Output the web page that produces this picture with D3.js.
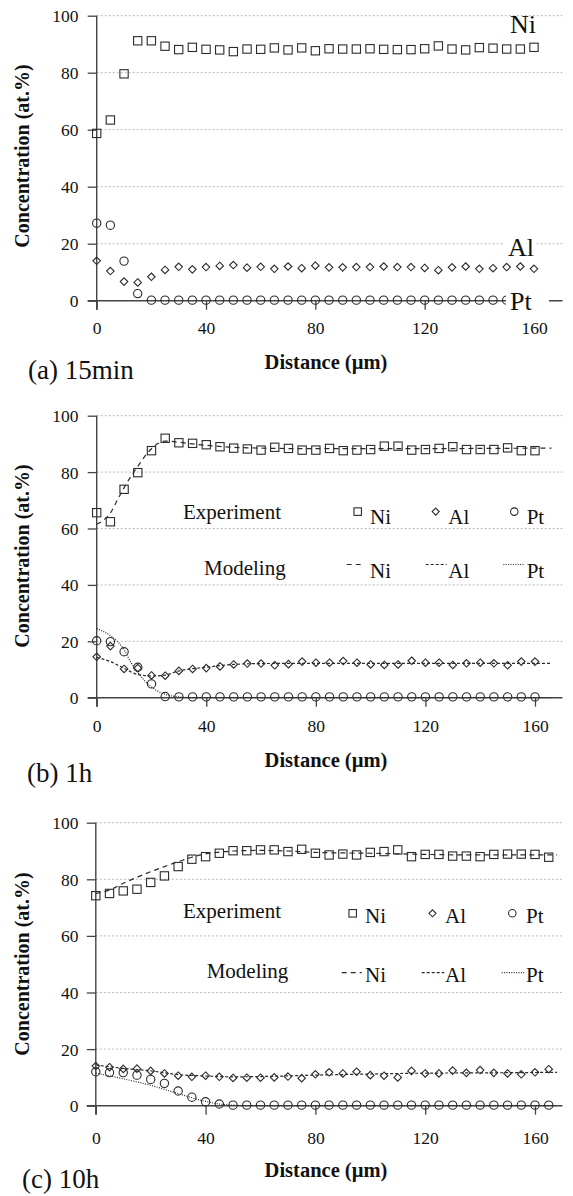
<!DOCTYPE html>
<html><head><meta charset="utf-8">
<script src="https://cdn.jsdelivr.net/npm/d3@7"></script>
<style>body{margin:0;background:#fff} svg{display:block} text{font-family:'Liberation Serif','Times New Roman',serif}</style>
</head><body>
<script>
// ---------------- data ----------------
const xTickValues = [0, 40, 80, 120, 160];
const yTickValues = [0, 20, 40, 60, 80, 100];
const elementNames = ["Ni", "Al", "Pt"];
const panelLabels = ["(a) 15min", "(b) 1h", "(c) 10h"];
const xTitle = "Distance (\u00b5m)";
const yTitle = "Concentration (at.%)";
const legendRows = ["Experiment", "Modeling"];

// (a) 15 min — experiment
const distA = [0,5,10,15,20,25,30,35,40,45,50,55,60,65,70,75,80,85,90,95,100,105,110,115,120,125,130,135,140,145,150,155,160];
const niA = [58.7,63.4,79.6,91.2,91.2,89.3,88.1,88.9,88.2,88.0,87.4,88.3,88.2,88.7,88.0,88.7,87.7,88.4,88.3,88.3,88.4,88.2,88.1,88.1,88.4,89.4,88.3,88.0,88.8,88.6,88.3,88.3,88.9];
const alA = [14.0,10.4,6.7,6.4,8.4,10.8,11.9,11.0,11.8,12.2,12.5,11.6,11.9,11.2,12.0,11.4,12.3,11.7,11.7,11.8,11.8,12.0,11.8,11.8,11.5,10.7,11.7,12.0,11.2,11.4,11.8,12.0,11.2];
const ptA = [27.2,26.5,13.9,2.5,0.2,0.2,0.2,0.2,0.2,0.2,0.2,0.2,0.2,0.2,0.2,0.2,0.2,0.2,0.2,0.2,0.2,0.2,0.2,0.2,0.2,0.2,0.2,0.2,0.2,0.2,0.2,0.2,0.2];

// (b) 1 h — experiment
const distB = [0,5,10,15,20,25,30,35,40,45,50,55,60,65,70,75,80,85,90,95,100,105,110,115,120,125,130,135,140,145,150,155,160];
const niB = [65.6,62.4,73.9,79.8,87.6,92.0,90.4,90.2,89.7,89.0,88.5,88.2,87.8,88.8,88.4,87.8,87.8,88.4,87.6,87.8,88.0,89.2,89.2,87.8,88.0,88.4,89.0,88.0,88.0,88.0,88.6,87.6,87.6];
const alB = [14.5,18.3,10.2,10.5,7.9,7.8,9.5,10.2,10.5,11.1,11.8,12.1,12.1,11.5,11.9,12.8,12.4,12.4,13.0,12.4,11.8,11.6,11.8,13.1,12.4,12.4,11.6,12.2,12.4,12.2,11.5,12.8,12.8];
const ptB = [20.2,19.9,16.3,10.8,4.9,0.4,0.3,0.3,0.3,0.3,0.3,0.3,0.3,0.3,0.3,0.3,0.3,0.3,0.3,0.3,0.3,0.3,0.3,0.3,0.3,0.3,0.3,0.3,0.3,0.3,0.3,0.3,0.3];
// (b) 1 h — modeling
const modNiBx = [0,2.5,5,7.5,10,12.5,15,17.5,20,22.5,25,30,35,40,50,60,80,100,120,140,166];
const modNiBy = [61.5,63,65.5,70,74.5,78.5,82,85.5,88.3,90.2,91,90.6,90,89.5,88.8,88.5,88.3,88.3,88.3,88.4,88.5];
const modAlBx = [0,5,10,15,20,25,30,40,50,60,80,100,120,140,166];
const modAlBy = [14.3,12.8,10.4,8.2,7.7,8.0,9.5,10.8,11.8,12.1,12.2,12.2,12.2,12.2,12.2];
const modPtBx = [0,5,10,12.5,15,17.5,20,25,30,35,166];
const modPtBy = [24.5,22,17,12.5,9,6,3.8,1.2,0.3,0,0];

// (c) 10 h — experiment
const distC = [0,5,10,15,20,25,30,35,40,45,50,55,60,65,70,75,80,85,90,95,100,105,110,115,120,125,130,135,140,145,150,155,160,165];
const niC = [74.2,75.0,75.9,76.5,78.9,81.2,84.5,87.1,88.0,89.2,90.1,90.1,90.4,90.4,89.8,90.6,89.2,88.6,88.9,88.6,89.5,89.8,90.4,88.0,88.8,88.8,88.2,88.2,88.0,88.8,88.9,88.9,88.8,87.8];
const alC = [14.0,13.6,13.0,13.1,12.3,11.4,10.6,10.2,10.6,10.2,9.8,9.9,9.9,10.0,10.3,9.7,11.1,11.8,11.4,12.0,10.8,10.6,10.0,12.3,11.4,11.4,12.4,11.6,12.6,11.6,11.4,11.1,11.8,12.9];
const ptC = [12.0,11.7,11.7,10.8,9.3,7.9,5.2,3.0,1.4,0.6,0.2,0.2,0.2,0.2,0.2,0.2,0.2,0.2,0.2,0.2,0.2,0.2,0.2,0.2,0.2,0.2,0.2,0.2,0.2,0.2,0.2,0.2,0.2,0.2];
// (c) 10 h — modeling
const modNiCx = [0,5,10,15,20,25,30,35,40,45,50,60,70,80,100,120,140,168];
const modNiCy = [75,76.2,78.6,80.7,82.7,84.5,86.2,87.8,89,89.6,90,90.2,90,89.5,89.2,88.8,88.6,88.6];
const modAlCx = [0,10,20,30,40,50,60,80,100,120,140,168];
const modAlCy = [14.4,13.2,12.3,11,10.5,10.2,10.3,10.8,11.2,11.5,11.6,11.8];
const modPtCx = [0,10,20,30,40,45,50,55,168];
const modPtCy = [11.5,9.5,7.2,4.3,1.5,0.6,0.2,0,0];

// ---------------- layout / style ----------------
const FONT = "'Liberation Serif','Times New Roman',serif";
const INK = "#2b2b2b";
const AXIS = "#444";
const dashes = {Ni: "5,4", Al: "3,2", Pt: "1,1.4"};

const panels = [
  {exp: [distA, niA, alA, ptA], mod: null,
   x0: 96.7, x160: 534, y0: 300.7, y100: 15.7, gridEnd: 562.5,
   xLabBase: 334, xTitleBase: 368.5, yTitleY: 156, label: {x: 28, y: 379}},
  {exp: [distB, niB, alB, ptB],
   mod: [[modNiBx, modNiBy], [modAlBx, modAlBy], [modPtBx, modPtBy]],
   x0: 96.7, x160: 535, y0: 697.7, y100: 415.7, gridEnd: 562.5,
   xLabBase: 732.5, xTitleBase: 766.5, yTitleY: 556, label: {x: 27, y: 782},
   legend: {expBase: 519, modBase: 575, expX: 183, modX: 204, itemBase: 523.5, modItemBase: 578.3,
            markerY: 511.6, lineY: 564.5,
            marks: [357.7, 435.7, 514.3], texts: [370, 448.3, 526.7],
            lines: [[346.7, 363.3], [425.7, 446.7], [503.3, 525]]}},
  {exp: [distC, niC, alC, ptC],
   mod: [[modNiCx, modNiCy], [modAlCx, modAlCy], [modPtCx, modPtCy]],
   x0: 95.8, x160: 535, y0: 1105.7, y100: 822.7, gridEnd: 562.5,
   xLabBase: 1144, xTitleBase: 1177, yTitleY: 964, label: {x: 22, y: 1188},
   legend: {expBase: 918.3, modBase: 978.3, expX: 183, modX: 206.7, itemBase: 922.7, modItemBase: 981.7,
            markerY: 913.3, lineY: 972.7,
            marks: [352.7, 432.5, 512.3], texts: [365, 445, 526],
            lines: [[341.7, 361.7], [421.7, 444.3], [501.7, 524.3]]}}
];

const svg = d3.select("body").append("svg")
  .attr("width", 573).attr("height", 1196)
  .attr("font-family", FONT);

function drawMarker(g, kind, cx, cy, s) {
  if (kind === "Ni") {
    g.append("rect").attr("x", cx - s/2).attr("y", cy - s/2).attr("width", s).attr("height", s)
      .attr("fill", "none").attr("stroke", INK).attr("stroke-width", 1.1);
  } else if (kind === "Al") {
    const h = s * 0.47;
    g.append("path").attr("d", `M${cx},${cy-h}L${cx+h},${cy}L${cx},${cy+h}L${cx-h},${cy}Z`)
      .attr("fill", "none").attr("stroke", INK).attr("stroke-width", 1.1);
  } else {
    g.append("circle").attr("cx", cx).attr("cy", cy).attr("r", s/2)
      .attr("fill", "none").attr("stroke", INK).attr("stroke-width", 1.1);
  }
}

panels.forEach((p, pi) => {
  const x = d3.scaleLinear().domain([0, 160]).range([p.x0, p.x160]);
  const y = d3.scaleLinear().domain([0, 100]).range([p.y0, p.y100]);
  const g = svg.append("g");

  // grid
  g.append("g").selectAll("line").data(yTickValues.filter(v => v > 0)).join("line")
    .attr("x1", p.x0).attr("x2", p.gridEnd)
    .attr("y1", d => y(d)).attr("y2", d => y(d))
    .attr("stroke", "#b8b8b8").attr("stroke-width", 1).attr("stroke-dasharray", "2,2");

  // axes (ticks + labels from d3 axes)
  const ax = g.append("g").attr("transform", `translate(0,${p.y0})`)
    .call(d3.axisBottom(x).tickValues(xTickValues).tickSize(9).tickSizeOuter(0))
    .attr("font-family", FONT);
  ax.select(".domain").remove();
  ax.selectAll(".tick line").attr("stroke", AXIS).attr("stroke-width", 1.3);
  ax.selectAll(".tick text").attr("y", p.xLabBase - p.y0).attr("dy", null)
    .attr("fill", "#111").style("font-size", "17.5px").style("font-family", FONT);

  const ay = g.append("g").attr("transform", `translate(${p.x0},0)`)
    .call(d3.axisLeft(y).tickValues(yTickValues).tickSize(9).tickSizeOuter(0))
    .attr("font-family", FONT);
  ay.select(".domain").remove();
  ay.selectAll(".tick line").attr("stroke", AXIS).attr("stroke-width", 1.3);
  ay.selectAll(".tick text").attr("x", 78.5 - p.x0).attr("dy", "0.34em")
    .attr("fill", "#111").style("font-size", "17.5px").style("font-family", FONT);

  // axis lines
  g.append("line").attr("x1", p.x0 - 9).attr("x2", p.gridEnd).attr("y1", y(0)).attr("y2", y(0))
    .attr("stroke", AXIS).attr("stroke-width", 1.4);
  g.append("line").attr("x1", p.x0).attr("x2", p.x0).attr("y1", y(100)).attr("y2", y(0) + 9)
    .attr("stroke", AXIS).attr("stroke-width", 1.4);

  // axis titles
  g.append("text").attr("x", 326).attr("y", p.xTitleBase).attr("text-anchor", "middle")
    .style("font-weight", "bold").style("font-size", "20.5px").attr("fill", "#111").text(xTitle);
  g.append("text").attr("transform", `translate(29,${p.yTitleY}) rotate(-90)`).attr("text-anchor", "middle")
    .style("font-weight", "bold").style("font-size", "20px").attr("fill", "#111").text(yTitle);

  // panel label
  g.append("text").attr("x", p.label.x).attr("y", p.label.y)
    .style("font-size", "27px").attr("fill", "#111").text(panelLabels[pi]);

  // legend (b, c)
  if (p.legend) {
    const L = p.legend;
    g.append("text").attr("x", L.expX).attr("y", L.expBase).style("font-size", "21px").attr("fill", "#111").text(legendRows[0]);
    g.append("text").attr("x", L.modX).attr("y", L.modBase).style("font-size", "21px").attr("fill", "#111").text(legendRows[1]);
    elementNames.forEach((nm, i) => {
      drawMarker(g, nm, L.marks[i], L.markerY, 7.5);
      g.append("text").attr("x", L.texts[i]).attr("y", L.itemBase).style("font-size", "21px").attr("fill", "#111").text(nm);
      g.append("line").attr("x1", L.lines[i][0]).attr("x2", L.lines[i][1]).attr("y1", L.lineY).attr("y2", L.lineY)
        .attr("stroke", INK).attr("stroke-width", 1.2).attr("stroke-dasharray", dashes[nm]);
      g.append("text").attr("x", L.texts[i]).attr("y", L.modItemBase).style("font-size", "21px").attr("fill", "#111").text(nm);
    });
  }

  // modeling curves
  if (p.mod) {
    p.mod.forEach(([mx, my], i) => {
      const pts = mx.map((v, k) => [v, my[k]]);
      g.append("path").datum(pts)
        .attr("d", d3.line().x(d => x(d[0])).y(d => y(d[1])).curve(d3.curveMonotoneX))
        .attr("fill", "none").attr("stroke", INK).attr("stroke-width", 1.2)
        .attr("stroke-dasharray", dashes[elementNames[i]]);
    });
  }

  // experimental markers
  const [dist, ...series] = p.exp;
  series.forEach((vals, si) => {
    const mg = g.append("g");
    vals.forEach((v, k) => drawMarker(mg, elementNames[si], x(dist[k]), y(v), si === 1 ? 8 : 8.3));
  });

  // inline element labels for (a)
  if (!p.legend) {
    const labs = [{x: 510, y: 33}, {x: 508, y: 256}, {x: 510, y: 310}];
    labs.forEach((l, i) => {
      if (i > 0) g.append("rect").attr("x", l.x - 4).attr("y", l.y - 19).attr("width", i === 2 ? 43 : 31).attr("height", 24).attr("fill", "#fff");
      g.append("text").attr("x", l.x).attr("y", l.y).style("font-size", "26px").attr("fill", "#111").text(elementNames[i]);
    });
  }
});
</script>
</body></html>
